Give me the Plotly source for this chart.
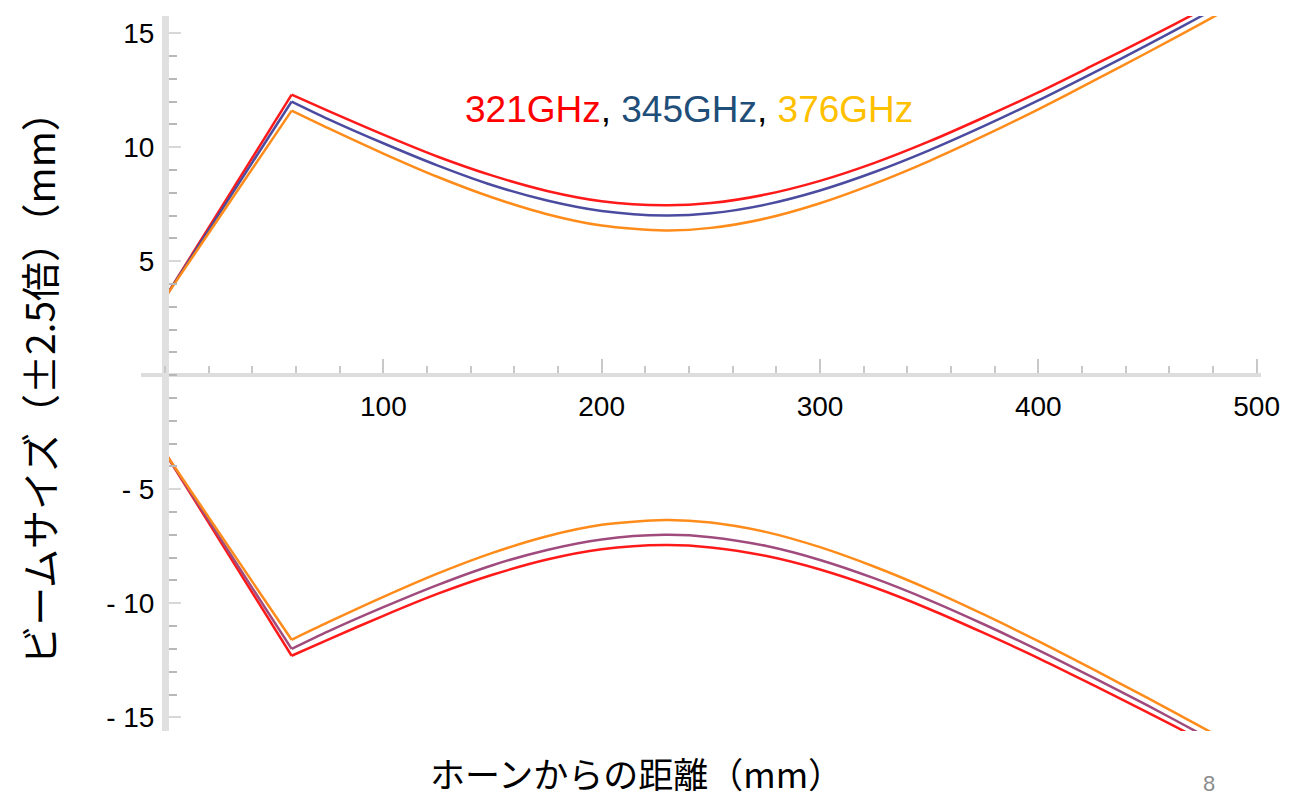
import plotly.graph_objects as go

# Distance from the horn (mm) where the beam profile is sampled
horn_x = [0, 58]
beam_x = [58, 75, 100, 125, 150, 175, 200, 229, 250, 275, 300, 325, 350, 375, 400, 425, 450, 475, 500]

# Beam half-width (2.5 x w) in mm for each frequency
horn_321 = [3.4, 12.3]
horn_345 = [3.4, 12.0]
horn_376 = [3.4, 11.6]
beam_321 = [12.3, 11.58, 10.55, 9.58, 8.75, 8.08, 7.63, 7.45, 7.55, 7.92, 8.52, 9.31, 10.25, 11.30, 12.40, 13.58, 14.78, 16.02, 17.30]
beam_345 = [12.0, 11.22, 10.17, 9.19, 8.33, 7.66, 7.20, 7.00, 7.10, 7.48, 8.10, 8.91, 9.86, 10.92, 12.05, 13.25, 14.48, 15.76, 17.05]
beam_376 = [11.6, 10.82, 9.72, 8.69, 7.79, 7.06, 6.56, 6.35, 6.46, 6.87, 7.54, 8.40, 9.39, 10.49, 11.66, 12.89, 14.15, 15.44, 16.75]

freq_labels = ["321GHz", "345GHz", "376GHz"]
label_colors = ["#FF0000", "#1F4E79", "#FFC000"]

x_ticks = [100, 200, 300, 400, 500]
y_ticks = [-15, -10, -5, 5, 10, 15]
y_tick_text = ["- 15", "- 10", "- 5", "5", "10", "15"]

X_RANGE = [-11, 502]
Y_RANGE = [-15.6, 15.75]

W, H = 1292, 797
M_L, M_R, M_T, M_B = 141, 23, 16, 66


def paper_x(px):
    return (px - M_L) / (W - M_L - M_R)


def paper_y(py):
    return (H - M_B - py) / (H - M_T - M_B)


fig = go.Figure()

upper_colors = ["rgb(255,25,25)", "rgb(75,75,160)", "rgb(255,140,26)"]
lower_colors = ["rgb(255,25,25)", "rgb(160,75,125)", "rgb(255,140,26)"]

series = [(horn_321, beam_321), (horn_345, beam_345), (horn_376, beam_376)]

for sign, colors in ((1, upper_colors), (-1, lower_colors)):
    for (horn_y, beam_y), col, name in zip(series, colors, freq_labels):
        fig.add_trace(go.Scatter(
            x=horn_x, y=[sign * v for v in horn_y], mode="lines",
            line=dict(color=col, width=2.5), name=name, showlegend=False,
            hoverinfo="skip"))
        fig.add_trace(go.Scatter(
            x=beam_x, y=[sign * v for v in beam_y], mode="lines",
            line=dict(color=col, width=2.5, shape="spline", smoothing=0.8),
            name=name, showlegend=False, hoverinfo="skip"))

x0_pos = (0 - X_RANGE[0]) / (X_RANGE[1] - X_RANGE[0])
y0_pos = (0 - Y_RANGE[0]) / (Y_RANGE[1] - Y_RANGE[0])

tick_font = dict(family="Liberation Sans", size=28, color="black")

fig.update_layout(
    width=W, height=H,
    margin=dict(l=M_L, r=M_R, t=M_T, b=M_B, pad=0),
    paper_bgcolor="white", plot_bgcolor="white",
    showlegend=False,
    xaxis=dict(
        range=X_RANGE, showgrid=False, zeroline=False,
        anchor="free", position=y0_pos,
        showline=True, linecolor="#DDDDDD", linewidth=4,
        tickmode="array", tickvals=x_ticks,
        ticks="inside", ticklen=14, tickwidth=2, tickcolor="#C8C8C8",
        ticklabelstandoff=5,
        tickfont=tick_font,
        minor=dict(tickmode="linear", tick0=0, dtick=20, ticks="inside",
                   ticklen=7, tickwidth=2, tickcolor="#C8C8C8"),
    ),
    yaxis=dict(
        range=Y_RANGE, showgrid=False, zeroline=False,
        anchor="free", position=x0_pos,
        showline=True, linecolor="#E0E0E0", linewidth=7,
        tickmode="array", tickvals=y_ticks, ticktext=y_tick_text,
        ticks="inside", ticklen=12, tickwidth=2, tickcolor="#D8D8D8",
        ticklabelstandoff=2,
        tickfont=tick_font,
        minor=dict(tickmode="linear", tick0=0, dtick=1, ticks="inside",
                   ticklen=8, tickwidth=2, tickcolor="#B8B8B8"),
    ),
)

legend_html = ", ".join(
    f'<span style="color:{c}">{t}</span>' for t, c in zip(freq_labels, label_colors))

fig.add_annotation(
    text=legend_html, xref="paper", yref="paper",
    x=paper_x(693), y=paper_y(110), xanchor="center", yanchor="middle",
    showarrow=False, font=dict(family="Liberation Sans", size=37, color="black"))

fig.add_annotation(
    text="ビームサイズ（±2.5倍）（mm）", xref="paper", yref="paper",
    x=paper_x(37), y=paper_y(378), xanchor="center", yanchor="middle",
    textangle=-90, showarrow=False,
    font=dict(family="Noto Sans CJK JP", size=39, color="black"))

fig.add_annotation(
    text="ホーンからの距離（mm）", xref="paper", yref="paper",
    x=paper_x(640), y=paper_y(772), xanchor="center", yanchor="middle",
    showarrow=False,
    font=dict(family="Noto Sans CJK JP", size=35, color="black"))

fig.add_annotation(
    text="8", xref="paper", yref="paper",
    x=paper_x(1217), y=paper_y(783), xanchor="center", yanchor="middle",
    showarrow=False,
    font=dict(family="Liberation Sans", size=22, color="#8C8C8C"))

fig.write_html("out.html", config=dict(displayModeBar=False))
